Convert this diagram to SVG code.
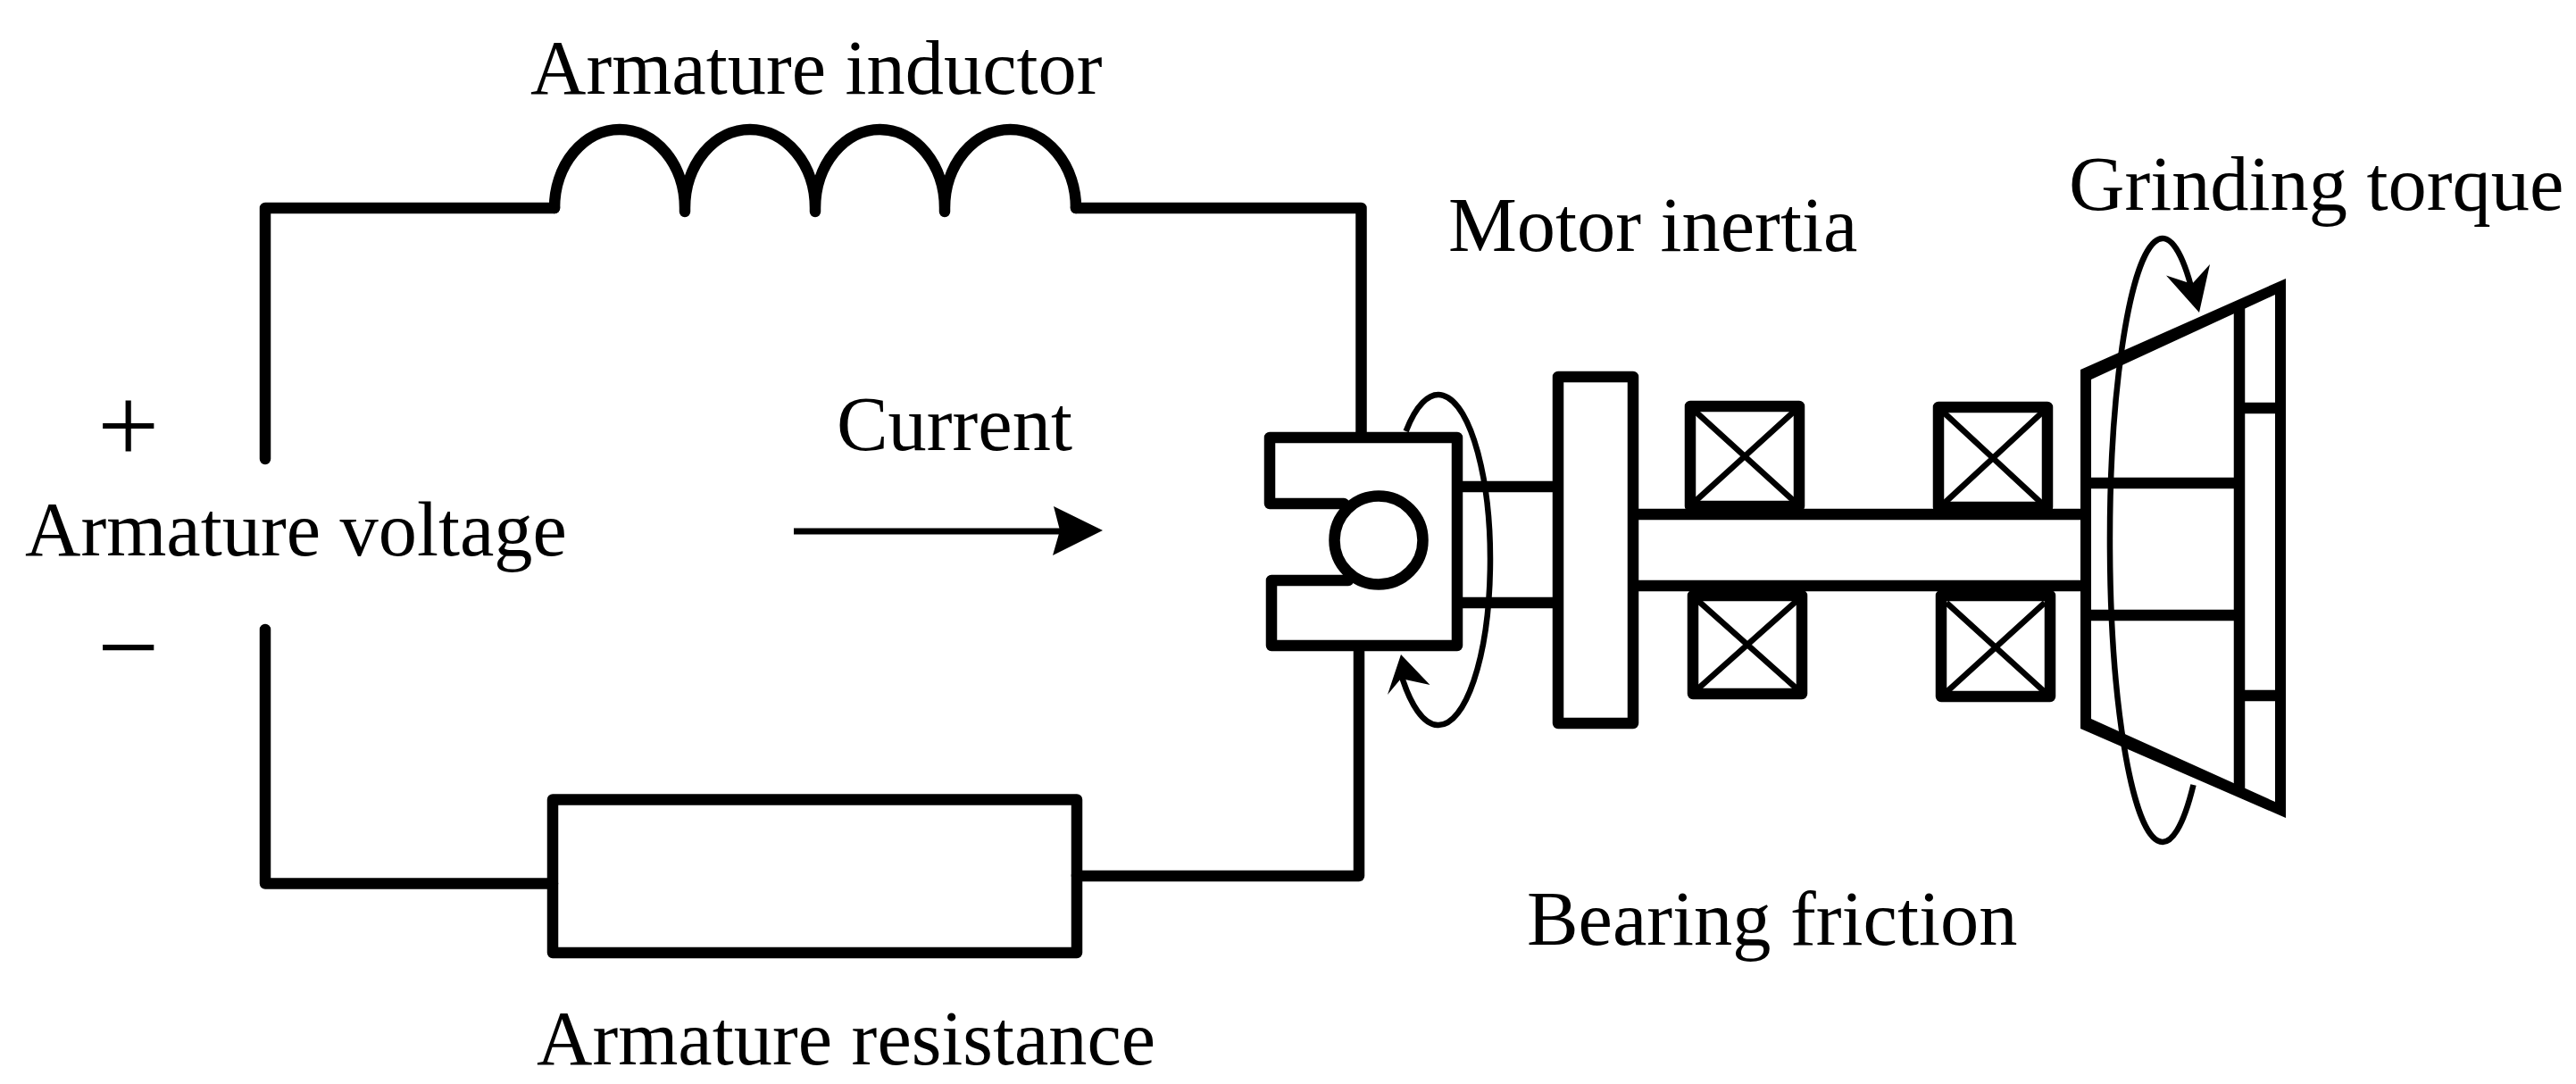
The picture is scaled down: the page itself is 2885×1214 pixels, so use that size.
<svg xmlns="http://www.w3.org/2000/svg" width="2885" height="1214" viewBox="0 0 2885 1214">
<style>
text{font-family:"Liberation Serif","Times New Roman",serif;font-size:86.400px;fill:#000}
.sign{font-size:123px}
.k{fill:none;stroke:#000;stroke-width:12.5;stroke-linejoin:round;stroke-linecap:round}
.b{fill:none;stroke:#000;stroke-width:12.5;stroke-linecap:butt}
.t{fill:none;stroke:#000;stroke-width:6.5;stroke-linecap:butt}
.x{fill:none;stroke:#000;stroke-width:6.5;stroke-linecap:butt}
.h{fill:#000;stroke:none}
</style>
<rect width="2885" height="1214" fill="#fff"/>
<g id="connectors">
<path class="k" d="M297 514V233H621"/>
<path class="k" d="M1205 233H1524.5V484"/>
<path class="k" d="M297 705V989.5H619"/>
<path class="k" d="M1206 981H1522V730"/>
<path class="b" d="M1638 545H1739M1638 675H1739"/>
</g>
<g id="inductor"><path class="k" d="M621 233A73 88 0 0 1 767 233V237M767 233A73 88 0 0 1 913 233V237M913 233A72.500 88 0 0 1 1058 233V237M1058 233A73.500 88 0 0 1 1205 233"/></g>
<g id="resistor"><rect class="k" x="619" y="895.500" width="587" height="171.500"/></g>
<g id="motor">
<path class="k" d="M1505 564H1422V490H1632V723H1424V650H1510"/>
<circle class="k" cx="1544" cy="605" r="49.500"/>
<path class="t" d="M1574.600 483A58 185 0 1 1 1570 758"/>
<path class="h" d="M1569 733L1601.500 767L1569 760L1554 778Z"/>
</g>
<g id="flywheel"><rect class="k" x="1745" y="422" width="84" height="388"/></g>
<g id="shaft"><path class="b" d="M1835 576H2332M1835 656H2332"/></g>
<g id="bearing-1">
<rect class="k" x="1893" y="455" width="122" height="112"/>
<path class="x" d="M1899 461L2009 561M2009 461L1899 561"/>
<rect class="k" x="1896" y="667" width="122" height="110"/>
<path class="x" d="M1902 673L2012 771M2012 673L1902 771"/>
</g>
<g id="bearing-2">
<rect class="k" x="2171" y="456" width="122" height="112"/>
<path class="x" d="M2177 462L2287 564M2287 462L2177 564"/>
<rect class="k" x="2174" y="667" width="122" height="113"/>
<path class="x" d="M2180 675L2290 775M2290 675L2180 775"/>
</g>
<g id="grinding-wheel">
<path class="h" fill-rule="evenodd" d="M2330 414L2560 312V916L2330 816ZM2342 425V805L2548 898V330Z"/>
<path class="b" d="M2508 340V888M2336 541H2508M2336 689H2508M2508 457H2554M2508 779H2554"/>
<path class="t" d="M2456.500 879A59 338 0 1 1 2453.700 320"/>
<path class="h" d="M2463 350L2426 308.500L2455 318L2475 296Z"/>
</g>
<g id="current"><path class="b" style="stroke-width:7" d="M889 595H1190"/><path class="h" d="M1235 594L1179 622L1187 594L1180 567Z"/></g>
<g id="labels">
<text x="594" y="105">Armature inductor</text>
<text x="1622" y="281">Motor inertia</text>
<text x="2317" y="235">Grinding torque</text>
<text x="937" y="504">Current</text>
<text x="28" y="621.500">Armature voltage</text>
<text class="sign" x="109" y="518">+</text>
<text class="sign" x="109" y="766">−</text>
<text x="601" y="1192">Armature resistance</text>
<text x="1710" y="1058">Bearing friction</text>
</g>
</svg>
